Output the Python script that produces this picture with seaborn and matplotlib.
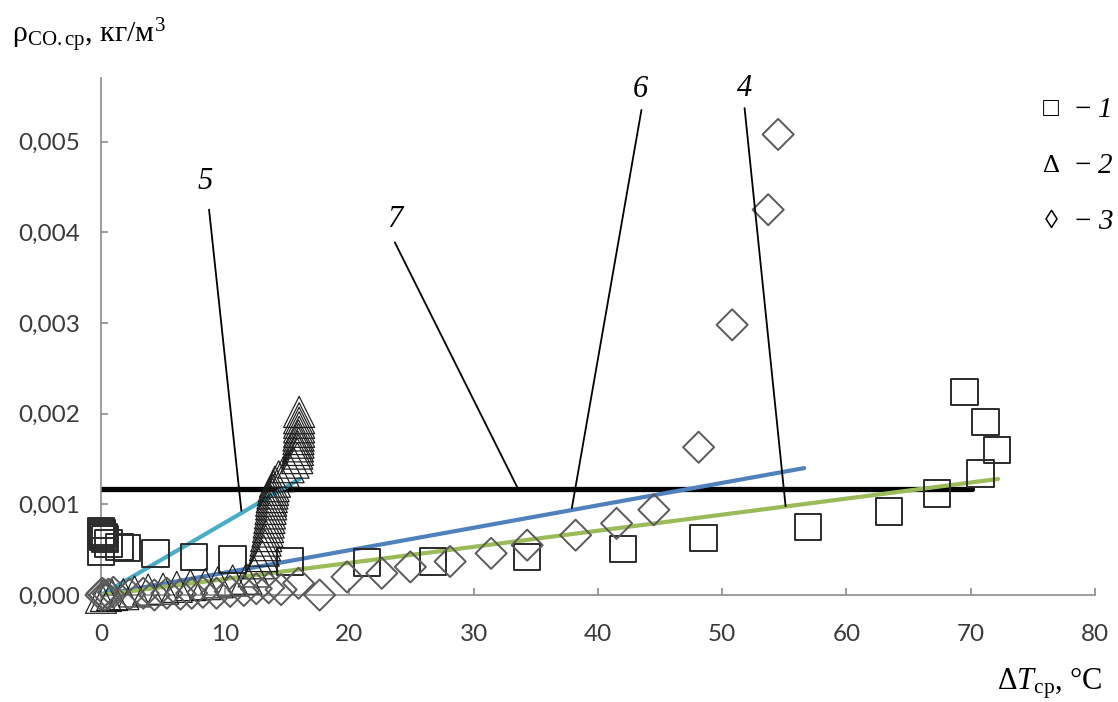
import numpy as np
import pandas as pd
import matplotlib
matplotlib.use("Agg")
import matplotlib.pyplot as plt
import seaborn as sns
from matplotlib.ticker import FuncFormatter, MultipleLocator

# ---- series 1 (squares) ----
sq_x = [0.0, 0.05, 0.1, 0.2, 0.35, 0.0, 0.6, 1.5, 2.1, 4.4, 7.5, 10.6, 15.2,
        21.4, 26.7, 34.3, 42.0, 48.5, 56.9, 63.4, 67.3, 70.8, 72.1, 71.2, 69.5]
sq_y = [0.00070, 0.00068, 0.00066, 0.00064, 0.00062, 0.00048, 0.00057, 0.00053,
        0.00052, 0.00046, 0.00042, 0.00039, 0.00037, 0.00036, 0.00037, 0.00042,
        0.00051, 0.00063, 0.00075, 0.00092, 0.00112, 0.00134, 0.00160, 0.00191,
        0.00224]

# ---- series 2 (triangles) ----
tr_x = [0.0, 0.4, 0.9, 1.8, 2.7, 3.8, 5.0, 6.1, 7.2, 8.4, 9.4, 10.6, 11.7,
        12.3, 12.7, 13.0, 13.1, 13.2, 13.25, 13.3, 13.4, 13.45, 13.5, 13.55,
        13.6, 13.65, 13.7, 13.7, 13.75, 13.8, 13.85, 13.9, 14.0,
        14.3, 14.7, 15.1, 15.5, 15.8,
        15.8, 15.85, 15.85, 15.9, 15.9, 15.9, 15.95, 15.95, 15.95, 15.95, 15.95]
tr_y = [-0.00003, -0.00001, 0.0, 0.00001, 0.00004, 0.00006, 0.00007, 0.00009,
        0.00011, 0.00012, 0.00014, 0.00016, 0.00018,
        0.00026, 0.00035, 0.00043, 0.00049, 0.00055, 0.00060, 0.00065, 0.00070,
        0.00075, 0.00080, 0.00085, 0.00090, 0.00095, 0.00100, 0.00104, 0.00108,
        0.00112, 0.00116, 0.00120, 0.00125,
        0.00131, 0.00136, 0.00141, 0.00146, 0.00151,
        0.00156, 0.00160, 0.00164, 0.00168, 0.00172, 0.00176, 0.00180, 0.00185,
        0.00190, 0.00195, 0.00202]

# ---- series 3 (diamonds) ----
di_x = [0.0, 0.1, 0.3, 0.6, 1.0, 2.3, 3.4, 4.3, 5.3, 6.4, 7.3, 8.2, 9.3, 10.4,
        11.5, 12.5, 13.5, 14.5, 15.9, 17.6, 19.8, 22.6, 24.9, 28.1, 31.4, 34.3,
        38.2, 41.5, 44.5, 48.1, 50.8, 53.7, 54.5]
di_y = [0.0, 0.00002, 0.0, 0.00001, 0.00003, 0.00001, 0.00002, 0.0, 0.00002,
        0.00001, 0.00002, 0.00003, 0.00002, 0.00004, 0.00005, 0.00007, 0.00008,
        0.00006, 0.00013, 0.0, 0.00020, 0.00024, 0.00031, 0.00037, 0.00046,
        0.00055, 0.00066, 0.00079, 0.00094, 0.00163, 0.00298, 0.00425, 0.00508]

# ---- trend lines (4, 5, 6) and level line 7 ----
line4_x = [0.0, 72.2]
line4_y = [0.0, 0.00128]
line5_x = [0.0, 16.0]
line5_y = [0.0, 0.00128]
line6_x = [0.0, 56.6]
line6_y = [0.0, 0.00140]
line7_x = [0.0, 70.1]
line7_y = [0.00117, 0.00117]

# ---- callout labels: text, label pos, leader start, leader end ----
call_text = ["5", "7", "6", "4"]
call_lx = [8.4, 23.65, 43.4, 51.8]
call_ly = [0.00456, 0.00414, 0.00557, 0.00559]
lead_x0 = [8.7, 23.65, 43.5, 51.8]
lead_y0 = [0.00425, 0.00389, 0.00535, 0.00537]
lead_x1 = [11.3, 33.5, 37.9, 55.1]
lead_y1 = [0.00093, 0.00119, 0.00096, 0.00098]

x_ticks = [0, 10, 20, 30, 40, 50, 60, 70, 80]
y_ticks = [0.000, 0.001, 0.002, 0.003, 0.004, 0.005]

legend_sym = ["\u25A1", "\u0394", "\u25CA"]
legend_num = ["1", "2", "3"]

sns.set_theme(style="white")
plt.rcParams["font.family"] = ["Lato", "DejaVu Sans"]
plt.rcParams["mathtext.fontset"] = "custom"
plt.rcParams["mathtext.rm"] = "Liberation Serif"
plt.rcParams["mathtext.it"] = "Liberation Serif:italic"
plt.rcParams["mathtext.bf"] = "Liberation Serif:bold"

fig = plt.figure(figsize=(11.18, 7.02), dpi=100)
ax = fig.add_axes([0.0903, 0.1330, 0.8891, 0.7556])

# lines
sns.lineplot(x=line7_x, y=line7_y, ax=ax, color="black", linewidth=3.8, zorder=2)
sns.lineplot(x=line5_x, y=line5_y, ax=ax, color="#4BACC6", linewidth=3.0, zorder=2)
sns.lineplot(x=line6_x, y=line6_y, ax=ax, color="#4F81BD", linewidth=3.0, zorder=2)
sns.lineplot(x=line4_x, y=line4_y, ax=ax, color="#9BBB59", linewidth=3.0, zorder=2)

# markers
sns.scatterplot(x=sq_x, y=sq_y, ax=ax, marker="s", s=360, facecolors="none",
                edgecolor="#2b2b2b", linewidth=1.4, zorder=3, clip_on=False)
sns.scatterplot(x=tr_x, y=tr_y, ax=ax, marker="^", s=500, facecolors="none",
                edgecolor="#1a1a1a", linewidth=0.85, zorder=3, clip_on=False)
sns.scatterplot(x=di_x, y=di_y, ax=ax, marker="D", s=250, facecolors="none",
                edgecolor="#5a5a5a", linewidth=1.4, zorder=3, clip_on=False)

# leader lines and callout numbers
for t, lx, ly, x0, y0, x1, y1 in zip(call_text, call_lx, call_ly,
                                     lead_x0, lead_y0, lead_x1, lead_y1):
    ax.plot([x0, x1], [y0, y1], color="black", linewidth=1.3, zorder=4)
    ax.text(lx, ly, t, ha="center", va="center", fontsize=22,
            family="Liberation Serif", style="italic", color="black")

ax.set_xlim(0, 80)
ax.set_ylim(-0.00015, 0.0057)
ax.spines["top"].set_visible(False)
ax.spines["right"].set_visible(False)
ax.spines["bottom"].set_position(("data", 0))
for sp in ("left", "bottom"):
    ax.spines[sp].set_color("#8c8c8c")
    ax.spines[sp].set_linewidth(1.2)
ax.set_xticks(x_ticks)
ax.set_yticks(y_ticks)
ax.yaxis.set_major_formatter(FuncFormatter(lambda v, p: f"{v:.3f}".replace(".", ",")))
ax.xaxis.set_major_formatter(FuncFormatter(lambda v, p: f"{int(round(v))}"))
ax.tick_params(axis="both", direction="in", length=5, width=1.2, color="#8c8c8c",
               labelsize=17.5, labelcolor="#3a3a3a", left=True, bottom=True)
ax.tick_params(axis="y", pad=15)
ax.tick_params(axis="x", pad=21)
ax.grid(False)
ax.set_xlabel("")
ax.set_ylabel("")

# axis titles
fig.text(12 / 1118, 1 - 36 / 702, "\u03C1$_{\\mathrm{CO.ср}}$, кг/м$^{3}$",
         family="Liberation Serif", fontsize=21.5, va="center", ha="left", color="black")
fig.text(1050 / 1118, 1 - 683 / 702, "\u0394$\\mathit{T}_{\\mathrm{ср}}$, °C",
         family="Liberation Serif", fontsize=22, va="center", ha="center", color="black")

# legend as text
rows_y = [110, 166, 222]
for sym, num, ry in zip(legend_sym, legend_num, rows_y):
    fy = 1 - ry / 702
    fig.text(1051 / 1118, fy, sym, family=["Liberation Serif", "DejaVu Serif"],
             fontsize=19, ha="center", va="center", color="black")
    fig.text(1083 / 1118, fy, "\u2212", family=["Liberation Serif", "DejaVu Serif"],
             fontsize=21, ha="center", va="center", color="black")
    fig.text(1105 / 1118, fy, num, family="Liberation Serif", style="italic",
             fontsize=21, ha="center", va="center", color="black")

fig.savefig("out.png", dpi=100)
